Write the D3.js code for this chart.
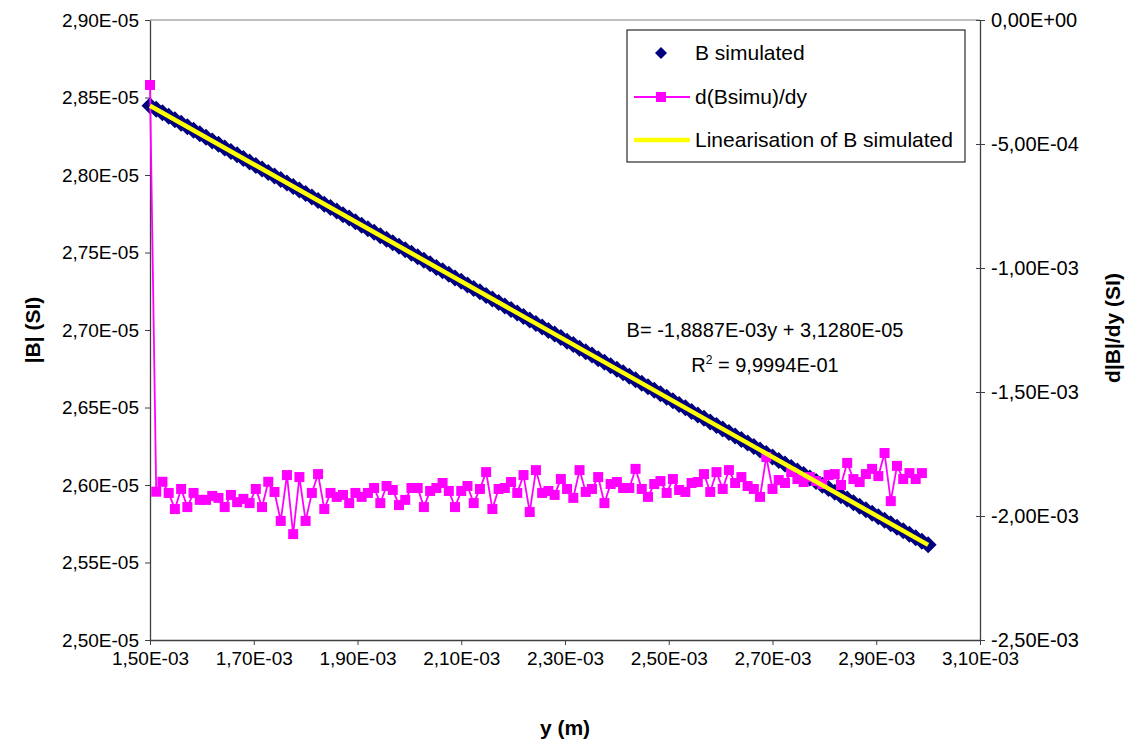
<!DOCTYPE html>
<html>
<head>
<meta charset="utf-8">
<script src="https://cdn.jsdelivr.net/npm/d3@7"></script>
<style>
  body { margin: 0; background: #fff; }
  svg { font-family: "Liberation Sans", Arial, sans-serif; }
</style>
</head>
<body>
<div id="chart"></div>
<script>
// positions along y, in mm (1e-3 m)
const yPosMm = [
  1.500, 1.512, 1.524, 1.536, 1.548, 1.560, 1.572, 1.584, 1.596, 1.608,
  1.620, 1.632, 1.644, 1.656, 1.668, 1.680, 1.692, 1.704, 1.716, 1.728,
  1.740, 1.752, 1.764, 1.776, 1.788, 1.800, 1.812, 1.824, 1.836, 1.848,
  1.860, 1.872, 1.884, 1.896, 1.908, 1.920, 1.932, 1.944, 1.956, 1.968,
  1.980, 1.992, 2.004, 2.016, 2.028, 2.040, 2.052, 2.064, 2.076, 2.088,
  2.100, 2.112, 2.124, 2.136, 2.148, 2.160, 2.172, 2.184, 2.196, 2.208,
  2.220, 2.232, 2.244, 2.256, 2.268, 2.280, 2.292, 2.304, 2.316, 2.328,
  2.340, 2.352, 2.364, 2.376, 2.388, 2.400, 2.412, 2.424, 2.436, 2.448,
  2.460, 2.472, 2.484, 2.496, 2.508, 2.520, 2.532, 2.544, 2.556, 2.568,
  2.580, 2.592, 2.604, 2.616, 2.628, 2.640, 2.652, 2.664, 2.676, 2.688,
  2.700, 2.712, 2.724, 2.736, 2.748, 2.760, 2.772, 2.784, 2.796, 2.808,
  2.820, 2.832, 2.844, 2.856, 2.868, 2.880, 2.892, 2.904, 2.916, 2.928,
  2.940, 2.952, 2.964, 2.976, 2.988, 3.000
];

// |B| simulated, in 1e-5 T
const bSimulated = [
  2.8447, 2.8424, 2.8402, 2.8379, 2.8356, 2.8334, 2.8311, 2.8288, 2.8266, 2.8243,
  2.8220, 2.8198, 2.8175, 2.8152, 2.8130, 2.8107, 2.8084, 2.8062, 2.8039, 2.8016,
  2.7994, 2.7971, 2.7948, 2.7926, 2.7903, 2.7880, 2.7858, 2.7835, 2.7812, 2.7790,
  2.7767, 2.7744, 2.7722, 2.7699, 2.7676, 2.7654, 2.7631, 2.7608, 2.7586, 2.7563,
  2.7540, 2.7518, 2.7495, 2.7472, 2.7450, 2.7427, 2.7404, 2.7382, 2.7359, 2.7336,
  2.7314, 2.7291, 2.7268, 2.7246, 2.7223, 2.7200, 2.7178, 2.7155, 2.7132, 2.7110,
  2.7087, 2.7064, 2.7042, 2.7019, 2.6996, 2.6974, 2.6951, 2.6928, 2.6906, 2.6883,
  2.6860, 2.6838, 2.6815, 2.6792, 2.6770, 2.6747, 2.6724, 2.6702, 2.6679, 2.6656,
  2.6634, 2.6611, 2.6588, 2.6566, 2.6543, 2.6520, 2.6498, 2.6475, 2.6452, 2.6430,
  2.6407, 2.6384, 2.6362, 2.6339, 2.6316, 2.6294, 2.6271, 2.6248, 2.6226, 2.6203,
  2.6181, 2.6158, 2.6135, 2.6113, 2.6090, 2.6067, 2.6045, 2.6022, 2.5999, 2.5977,
  2.5954, 2.5931, 2.5909, 2.5886, 2.5863, 2.5841, 2.5818, 2.5795, 2.5773, 2.5750,
  2.5727, 2.5705, 2.5682, 2.5659, 2.5637, 2.5614
];

// d|B|/dy, in 1e-3 T/m
const dBdy = [
  -0.262,
  -1.902, -1.862, -1.907, -1.972, -1.891, -1.964, -1.907, -1.935, -1.935, -1.919,
  -1.927, -1.964, -1.915, -1.944, -1.931, -1.948, -1.891, -1.964, -1.862, -1.903,
  -2.020, -1.835, -2.073, -1.843, -2.020, -1.907, -1.831, -1.972, -1.907, -1.923,
  -1.915, -1.948, -1.907, -1.923, -1.907, -1.887, -1.948, -1.879, -1.895, -1.956,
  -1.935, -1.887, -1.887, -1.964, -1.899, -1.887, -1.867, -1.899, -1.964, -1.899,
  -1.879, -1.948, -1.891, -1.823, -1.972, -1.891, -1.887, -1.863, -1.907, -1.835,
  -1.984, -1.815, -1.907, -1.899, -1.915, -1.851, -1.891, -1.927, -1.815, -1.903,
  -1.891, -1.843, -1.948, -1.871, -1.863, -1.887, -1.887, -1.810, -1.891, -1.923,
  -1.871, -1.859, -1.907, -1.851, -1.895, -1.903, -1.867, -1.863, -1.831, -1.903,
  -1.823, -1.891, -1.815, -1.867, -1.843, -1.879, -1.891, -1.923, -1.762, -1.891,
  -1.855, -1.867, -1.823, -1.851, -1.863, -1.843, -1.859, -1.871, -1.835, -1.831,
  -1.875, -1.786, -1.851, -1.863, -1.831, -1.810, -1.839, -1.746, -1.940, -1.798,
  -1.851, -1.827, -1.851, -1.827
];

// linear fit shown on the chart: B = slope * y + intercept (SI)
const fitSlope = -1.8887e-3;
const fitIntercept = 3.1280e-5;
const fitText = ["B= -1,8887E-03y + 3,1280E-05", "R", " = 9,9994E-01"];

const xTicks = [1.5e-3, 1.7e-3, 1.9e-3, 2.1e-3, 2.3e-3, 2.5e-3, 2.7e-3, 2.9e-3, 3.1e-3];
const leftTicks = [2.5e-5, 2.55e-5, 2.6e-5, 2.65e-5, 2.7e-5, 2.75e-5, 2.8e-5, 2.85e-5, 2.9e-5];
const rightTicks = [0, -5e-4, -1e-3, -1.5e-3, -2e-3, -2.5e-3];

const legendLabels = ["B simulated", "d(Bsimu)/dy", "Linearisation of B simulated"];

const NAVY = "#000080", PINK = "#ff00ff", YELLOW = "#ffff00";

function sci(v) {
  if (v === 0) return "0,00E+00";
  let e = Math.floor(Math.log10(Math.abs(v)));
  let m = v / Math.pow(10, e);
  if (Math.abs(+m.toFixed(2)) >= 10) { e += 1; m = v / Math.pow(10, e); }
  const ex = String(Math.abs(e)).padStart(2, "0");
  return m.toFixed(2).replace(".", ",") + "E" + (e < 0 ? "-" : "+") + ex;
}

const W = 1142, H = 747;
const margin = { top: 20, right: 162, bottom: 107, left: 150 };
const width = W - margin.left - margin.right;
const height = H - margin.top - margin.bottom;

const svg = d3.select("#chart").append("svg")
  .attr("width", W).attr("height", H);
const g = svg.append("g")
  .attr("transform", `translate(${margin.left},${margin.top})`);

const x = d3.scaleLinear().domain([1.5e-3, 3.1e-3]).range([0, width]);
const yL = d3.scaleLinear().domain([2.5e-5, 2.9e-5]).range([height, 0]);
const yR = d3.scaleLinear().domain([-2.5e-3, 0]).range([height, 0]);

// top frame line
g.append("line").attr("x1", 0).attr("x2", width).attr("y1", 0).attr("y2", 0)
  .attr("stroke", "#808080").attr("stroke-width", 1);

function styleAxis(sel, size) {
  sel.selectAll(".domain").attr("stroke", "#404040").attr("stroke-width", 1.3);
  sel.selectAll(".tick line").attr("stroke", "#404040");
  sel.selectAll(".tick text").attr("fill", "#000").style("font-size", size);
}

g.append("g").attr("transform", `translate(0,${height})`)
  .call(d3.axisBottom(x).tickValues(xTicks).tickFormat(sci).tickSize(5).tickSizeOuter(0).tickPadding(7))
  .call(styleAxis, "19px");

g.append("g")
  .call(d3.axisLeft(yL).tickValues(leftTicks).tickFormat(sci).tickSize(5).tickSizeOuter(0).tickPadding(6))
  .call(styleAxis, "19px");

const rAxis = g.append("g").attr("transform", `translate(${width},0)`)
  .call(d3.axisRight(yR).tickValues(rightTicks).tickFormat(sci).tickSize(5).tickSizeOuter(0).tickPadding(6))
  .call(styleAxis, "20px");
rAxis.selectAll(".tick line").attr("x1", -4);

// B simulated diamonds
const diamond = "M0,-8.5L8.5,0L0,8.5L-8.5,0Z";
const bData = yPosMm.map((p, i) => ({ p: p * 1e-3, b: bSimulated[i] * 1e-5 }));
g.append("g").selectAll("path")
  .data(bData).enter().append("path")
  .attr("d", diamond)
  .attr("transform", (d) => `translate(${x(d.p)},${yL(d.b)})`)
  .attr("fill", NAVY);

// derivative series
const dData = dBdy.map((v, i) => ({ p: yPosMm[i] * 1e-3, v: v * 1e-3 }));
g.append("path").datum(dData)
  .attr("fill", "none").attr("stroke", PINK).attr("stroke-width", 1.8)
  .attr("d", d3.line().x((d) => x(d.p)).y((d) => yR(d.v)));
g.append("g").selectAll("rect")
  .data(dData).enter().append("rect")
  .attr("x", (d) => x(d.p) - 5).attr("y", (d) => yR(d.v) - 5)
  .attr("width", 10).attr("height", 10)
  .attr("fill", PINK);

// linear fit
const p0 = yPosMm[0] * 1e-3, p1 = yPosMm[yPosMm.length - 1] * 1e-3;
g.append("line")
  .attr("x1", x(p0)).attr("y1", yL(fitSlope * p0 + fitIntercept))
  .attr("x2", x(p1)).attr("y2", yL(fitSlope * p1 + fitIntercept))
  .attr("stroke", YELLOW).attr("stroke-width", 4.5);

// equation text
const eq = svg.append("g").style("font-size", "20px");
eq.append("text").attr("x", 765).attr("y", 337).attr("text-anchor", "middle").text(fitText[0]);
const r2 = eq.append("text").attr("x", 765).attr("y", 372).attr("text-anchor", "middle");
r2.append("tspan").text(fitText[1]);
r2.append("tspan").attr("dy", -8).style("font-size", "12px").text("2");
r2.append("tspan").attr("dy", 8).text(fitText[2]);

// legend
const lg = svg.append("g").attr("transform", "translate(627,30)");
lg.append("rect").attr("width", 338).attr("height", 132)
  .attr("fill", "#fff").attr("stroke", "#000").attr("stroke-width", 1);
const rowY = [23, 67, 110];
lg.append("path").attr("d", "M0,-6L6,0L0,6L-6,0Z").attr("transform", `translate(34,${rowY[0]})`).attr("fill", NAVY);
lg.append("line").attr("x1", 7).attr("x2", 63).attr("y1", rowY[1]).attr("y2", rowY[1])
  .attr("stroke", PINK).attr("stroke-width", 1.8);
lg.append("rect").attr("x", 29).attr("y", rowY[1] - 5).attr("width", 10).attr("height", 10).attr("fill", PINK);
lg.append("line").attr("x1", 7).attr("x2", 63).attr("y1", rowY[2]).attr("y2", rowY[2])
  .attr("stroke", YELLOW).attr("stroke-width", 4.5);
lg.selectAll("text.lab").data(legendLabels).enter().append("text")
  .attr("class", "lab")
  .attr("x", 68).attr("y", (d, i) => rowY[i] + 7)
  .style("font-size", "21px").text((d) => d);

// axis titles
svg.append("text").attr("x", 565).attr("y", 735).attr("text-anchor", "middle")
  .style("font-size", "21px").style("font-weight", "bold").text("y (m)");
svg.append("text").attr("transform", "translate(40,330) rotate(-90)").attr("text-anchor", "middle")
  .style("font-size", "21px").style("font-weight", "bold").text("|B| (SI)");
svg.append("text").attr("transform", "translate(1120,328) rotate(-90)").attr("text-anchor", "middle")
  .style("font-size", "21px").style("font-weight", "bold").text("d|B|/dy (SI)");
</script>
</body>
</html>
